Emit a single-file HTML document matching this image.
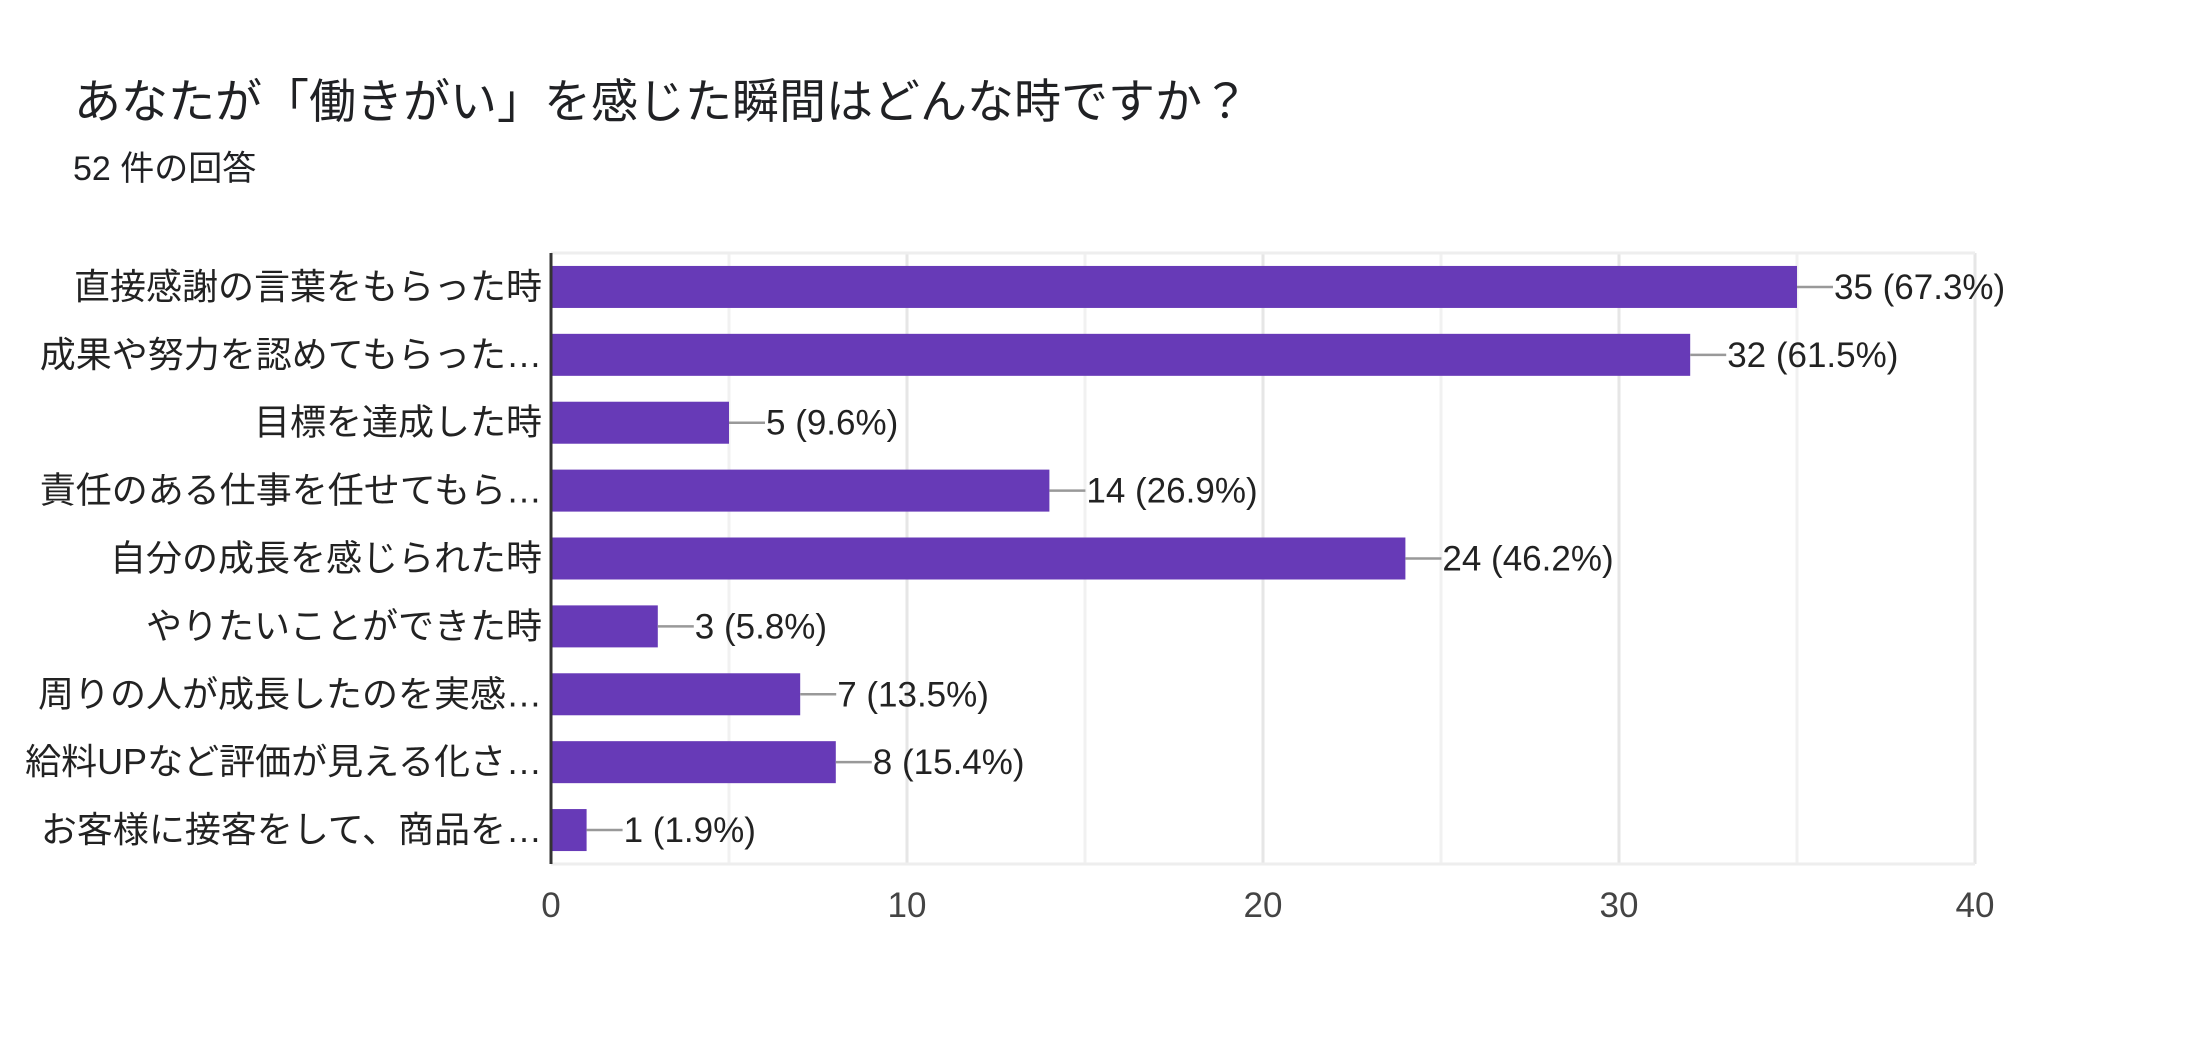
<!DOCTYPE html>
<html><head><meta charset="utf-8"><style>
body{margin:0;background:#fff;width:2196px;height:1044px;overflow:hidden;font-family:"Liberation Sans","Noto Sans CJK JP",sans-serif;}
</style></head><body>
<svg id="chart" width="2196" height="1044" xmlns="http://www.w3.org/2000/svg">
<text x="74" y="118" font-size="47" fill="#202124" font-family="Liberation Sans, Noto Sans CJK JP, sans-serif">あなたが「働きがい」を感じた瞬間はどんな時ですか？</text>
<text x="73" y="180" font-size="34" fill="#202124" font-family="Liberation Sans, Noto Sans CJK JP, sans-serif">52 件の回答</text>
<g id="grid"></g><g id="bars"></g><g id="labels"></g>
</svg>
<script>
const categories=["直接感謝の言葉をもらった時","成果や努力を認めてもらった…","目標を達成した時","責任のある仕事を任せてもら…","自分の成長を感じられた時","やりたいことができた時","周りの人が成長したのを実感…","給料UPなど評価が見える化さ…","お客様に接客をして、商品を…"];
const values=[35,32,5,14,24,3,7,8,1];
const percents=["67.3%","61.5%","9.6%","26.9%","46.2%","5.8%","13.5%","15.4%","1.9%"];
const ticks=[0,10,20,30,40];
const NS="http://www.w3.org/2000/svg";
const x0=551,x1=1975,yTop=253,yBot=864,max=40;
const xs=v=>x0+(x1-x0)*v/max;
const band=(yBot-yTop)/categories.length;
const yc=i=>yTop+band*(i+0.5);
function mk(t,a,p){const e=document.createElementNS(NS,t);for(const k in a)e.setAttribute(k,a[k]);p.appendChild(e);return e;}
const grid=document.getElementById('grid'),bars=document.getElementById('bars'),labels=document.getElementById('labels');
for(let v=5;v<=max;v+=5){const l=mk('line',{x1:xs(v),x2:xs(v),y1:yTop,y2:yBot,stroke:v%10?'#f1f1f1':'#e6e6e6','stroke-width':3},grid);

}
const tb=mk('line',{x1:x0,x2:x1,y1:yTop,y2:yTop,stroke:'#eeeeee','stroke-width':3},grid);


const bb=mk('line',{x1:x0,x2:x1,y1:yBot,y2:yBot,stroke:'#eeeeee','stroke-width':3},grid);


ticks.forEach(t=>{const e=mk('text',{x:xs(t),y:917,'text-anchor':'middle','font-size':35,fill:'#444'},labels);e.textContent=t;

});
categories.forEach((c,i)=>{const y=yc(i);
const t=mk('text',{x:542,y:y+12,'text-anchor':'end','font-size':36,fill:'#222'},labels);t.textContent=c;


const b=mk('rect',{x:x0,y:y-21,width:xs(values[i])-x0,height:42,fill:'#673ab7'},bars);


const l=mk('line',{x1:xs(values[i]),x2:xs(values[i])+36,y1:y,y2:y,stroke:'#999','stroke-width':2.5},bars);


const v=mk('text',{x:xs(values[i])+37,y:y+12,'font-size':35,fill:'#222'},labels);v.textContent=values[i]+' ('+percents[i]+')';

});
const ax=mk('line',{x1:x0,x2:x0,y1:yTop,y2:yBot,stroke:'#333','stroke-width':3},bars);


</script>
</body></html>
